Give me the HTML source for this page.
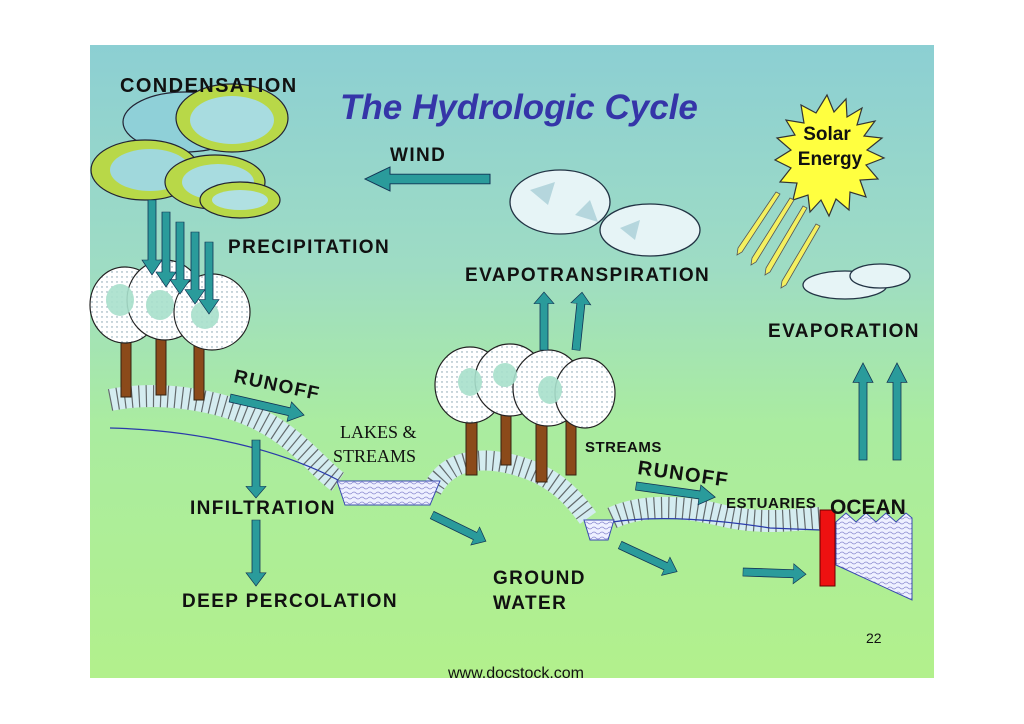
<!DOCTYPE html>
<html><head><meta charset="utf-8"><style>
html,body{margin:0;padding:0;background:#fff;}
svg{display:block;}
text{font-family:"Liberation Sans",Arial,sans-serif;font-weight:bold;fill:#111;}
.l{font-size:19px;letter-spacing:1.4px;}
</style></head><body>
<svg width="1024" height="724" viewBox="0 0 1024 724" xmlns="http://www.w3.org/2000/svg">
<defs>
<linearGradient id="bg" x1="0" y1="0" x2="0" y2="1">
<stop offset="0" stop-color="#8ccfd3"/>
<stop offset="0.35" stop-color="#9edcc4"/>
<stop offset="0.6" stop-color="#aaeca0"/>
<stop offset="1" stop-color="#b2f08c"/>
</linearGradient>
<pattern id="dots" width="5" height="5" patternUnits="userSpaceOnUse">
<rect width="5" height="5" fill="#fff"/><circle cx="2" cy="2" r="0.7" fill="#7a9aa8"/>
</pattern>
<pattern id="wave" width="8" height="5" patternUnits="userSpaceOnUse">
<rect width="8" height="5" fill="#eef0ff"/><path d="M0 3 Q2 1 4 3 T8 3" stroke="#8a8ad0" fill="none" stroke-width="0.8"/>
</pattern>
<g id="arr"><polygon points="0,-4 80,-4 80,-10 100,0 80,10 80,4 0,4" fill="#2a9b9b" stroke="#135" stroke-width="0.8"/></g>
</defs>
<rect x="90" y="45" width="844" height="633" fill="url(#bg)"/>

<!-- condensation clouds -->
<g stroke="#223" stroke-width="1.2">
<ellipse cx="185" cy="122" rx="62" ry="30" fill="#8fd0d8"/>
<ellipse cx="232" cy="118" rx="56" ry="34" fill="#b8d848"/>
<ellipse cx="232" cy="120" rx="42" ry="24" fill="#a8dce0" stroke="none"/>
<ellipse cx="145" cy="170" rx="54" ry="30" fill="#b8d848"/>
<ellipse cx="150" cy="170" rx="40" ry="21" fill="#a0d8dc" stroke="none"/>
<ellipse cx="215" cy="182" rx="50" ry="27" fill="#b8d848"/>
<ellipse cx="218" cy="182" rx="36" ry="18" fill="#a8dce0" stroke="none"/>
<ellipse cx="240" cy="200" rx="40" ry="18" fill="#b8d848"/>
<ellipse cx="240" cy="200" rx="28" ry="10" fill="#b0e0e2" stroke="none"/>
</g>
<!-- evapotranspiration clouds -->
<g stroke="#234" stroke-width="1.3" fill="#e6f4f6">
<ellipse cx="560" cy="202" rx="50" ry="32"/>
<ellipse cx="650" cy="230" rx="50" ry="26"/>
<ellipse cx="845" cy="285" rx="42" ry="14"/>
<ellipse cx="880" cy="276" rx="30" ry="12"/>
</g>
<g fill="#aacfd8" opacity="0.8">
<polygon points="530,190 555,182 548,205"/><polygon points="575,215 590,200 598,222"/><polygon points="620,228 640,220 635,240"/>
</g>

<!-- sun -->
<polygon fill="#ffff40" stroke="#333" stroke-width="1.2" points="
827,95 834,112 846,99 847,117 862,108 857,125 875,121 864,136 882,138 867,150 884,158 866,165 878,179 860,180 866,197 850,192 849,210 836,199 829,216 821,200 810,212 808,195 793,200 797,183 780,182 791,168 775,160 791,150 777,138 795,135 786,120 804,123 801,105 816,113"/>
<text x="827" y="140" font-size="19" text-anchor="middle">Solar</text>
<text x="830" y="165" font-size="19" text-anchor="middle">Energy</text>
<g stroke="#555" stroke-width="0.8" fill="#f4f060">
<polygon points="776,192 780,194 742,252 737,255 738,248"/>
<polygon points="790,198 794,200 756,262 751,265 752,258"/>
<polygon points="803,206 807,208 770,272 765,275 766,268"/>
<polygon points="816,224 820,226 786,285 781,288 782,281"/>
</g>

<!-- ground ridge -->
<path d="M110,400 C160,390 220,400 260,420 C300,440 320,470 338,482" fill="none" stroke="#d4ecf0" stroke-width="22"/>
<path d="M110,400 C160,390 220,400 260,420 C300,440 320,470 338,482" fill="none" stroke="#333" stroke-width="22" stroke-dasharray="1.2 6" opacity="0.7"/>
<path d="M432,490 C450,455 490,455 530,470 C560,482 575,500 588,518" fill="none" stroke="#d4ecf0" stroke-width="20"/>
<path d="M432,490 C450,455 490,455 530,470 C560,482 575,500 588,518" fill="none" stroke="#333" stroke-width="20" stroke-dasharray="1.2 6" opacity="0.7"/>
<path d="M612,518 C640,505 680,505 720,515 C760,525 790,520 820,518" fill="none" stroke="#d4ecf0" stroke-width="22"/>
<path d="M612,518 C640,505 680,505 720,515 C760,525 790,520 820,518" fill="none" stroke="#333" stroke-width="22" stroke-dasharray="1.2 6" opacity="0.7"/>
<path d="M110,428 C200,430 280,450 338,480 M612,522 C660,515 720,520 770,528 L820,530" fill="none" stroke="#2a3aaa" stroke-width="1.2"/>
<polygon points="337,481 440,481 430,505 345,505" fill="url(#wave)" stroke="#3a4ab0" stroke-width="1"/>
<polygon points="584,520 614,520 608,540 590,540" fill="url(#wave)" stroke="#3a4ab0" stroke-width="1"/>
<polygon points="836,522 846,513 856,522 866,513 876,522 886,513 896,522 906,513 912,518 912,600 836,565" fill="url(#wave)" stroke="#3a4ab0" stroke-width="1"/>
<rect x="820" y="510" width="15" height="76" fill="#ee1111" stroke="#600" stroke-width="1"/>

<!-- trees -->
<g fill="#8b4a1a" stroke="#321" stroke-width="1">
<rect x="121" y="335" width="10" height="62"/><rect x="156" y="335" width="10" height="60"/><rect x="194" y="335" width="10" height="65"/>
<rect x="466" y="410" width="11" height="65"/><rect x="501" y="410" width="10" height="55"/><rect x="536" y="410" width="11" height="72"/><rect x="566" y="410" width="10" height="65"/>
</g>
<g fill="url(#dots)" stroke="#222" stroke-width="1.2">
<ellipse cx="125" cy="305" rx="35" ry="38"/><ellipse cx="165" cy="300" rx="38" ry="40"/><ellipse cx="212" cy="312" rx="38" ry="38"/>
<ellipse cx="470" cy="385" rx="35" ry="38"/><ellipse cx="510" cy="380" rx="35" ry="36"/><ellipse cx="548" cy="388" rx="35" ry="38"/><ellipse cx="585" cy="393" rx="30" ry="35"/>
</g>
<g fill="#a8e0cc" opacity="0.9">
<ellipse cx="120" cy="300" rx="14" ry="16"/><ellipse cx="160" cy="305" rx="14" ry="15"/><ellipse cx="205" cy="315" rx="14" ry="14"/>
<ellipse cx="470" cy="382" rx="12" ry="14"/><ellipse cx="505" cy="375" rx="12" ry="12"/><ellipse cx="550" cy="390" rx="12" ry="14"/>
</g>

<!-- arrows -->
<use href="#arr" transform="translate(490,179) rotate(180) scale(1.25,1.2)"/>
<use href="#arr" transform="translate(152,200) rotate(90) scale(0.75,1)"/>
<use href="#arr" transform="translate(166,212) rotate(90) scale(0.75,1)"/>
<use href="#arr" transform="translate(180,222) rotate(90) scale(0.72,1)"/>
<use href="#arr" transform="translate(195,232) rotate(90) scale(0.72,1)"/>
<use href="#arr" transform="translate(209,242) rotate(90) scale(0.72,1)"/>
<use href="#arr" transform="translate(544,350) rotate(-90) scale(0.58,1)"/>
<use href="#arr" transform="translate(576,350) rotate(-84) scale(0.58,1)"/>
<use href="#arr" transform="translate(863,460) rotate(-90) scale(0.97,1)"/>
<use href="#arr" transform="translate(897,460) rotate(-90) scale(0.97,1)"/>
<use href="#arr" transform="translate(230,398) rotate(13) scale(0.76,1)"/>
<use href="#arr" transform="translate(256,440) rotate(90) scale(0.58,1)"/>
<use href="#arr" transform="translate(256,520) rotate(90) scale(0.66,1)"/>
<use href="#arr" transform="translate(432,515) rotate(26) scale(0.6,1)"/>
<use href="#arr" transform="translate(636,486) rotate(8) scale(0.8,1)"/>
<use href="#arr" transform="translate(620,545) rotate(25) scale(0.63,1)"/>
<use href="#arr" transform="translate(743,572) rotate(2) scale(0.63,1)"/>

<!-- labels -->
<text x="120" y="92" class="l" style="font-size:20px">CONDENSATION</text>
<text x="340" y="119" font-size="35" font-style="italic" style="fill:#3535a8">The Hydrologic Cycle</text>
<text x="390" y="161" class="l">WIND</text>
<text x="228" y="253" class="l">PRECIPITATION</text>
<text x="465" y="281" class="l">EVAPOTRANSPIRATION</text>
<text x="768" y="337" class="l">EVAPORATION</text>
<text x="233" y="382" class="l" transform="rotate(12 233 382)">RUNOFF</text>
<text x="340" y="438" font-size="18" style="font-family:'Liberation Serif',serif;font-weight:normal">LAKES &amp;</text>
<text x="333" y="462" font-size="18" style="font-family:'Liberation Serif',serif;font-weight:normal">STREAMS</text>
<text x="585" y="452" font-size="15" style="letter-spacing:0.5px">STREAMS</text>
<text x="637" y="474" class="l" transform="rotate(8 637 474)" style="font-size:20px">RUNOFF</text>
<text x="726" y="508" font-size="15" style="letter-spacing:0.5px">ESTUARIES</text>
<text x="830" y="514" font-size="21">OCEAN</text>
<text x="190" y="514" class="l">INFILTRATION</text>
<text x="182" y="607" class="l">DEEP PERCOLATION</text>
<text x="493" y="584" class="l">GROUND</text>
<text x="493" y="609" class="l">WATER</text>
<text x="866" y="643" font-size="14" style="font-weight:normal">22</text>
<text x="516" y="678" font-size="16" text-anchor="middle" style="font-weight:normal">www.docstock.com</text>
</svg>
</body></html>
